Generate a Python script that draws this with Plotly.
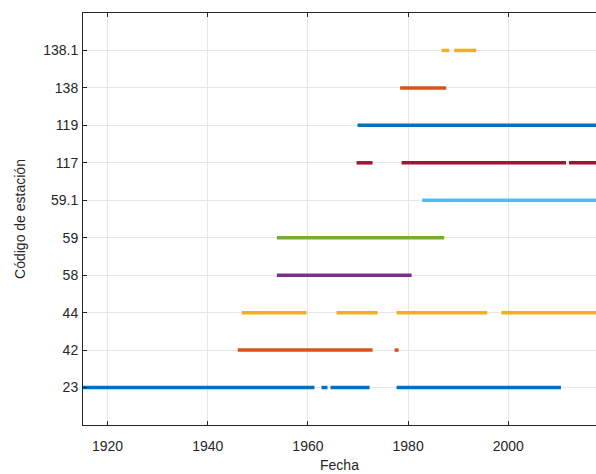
import plotly.graph_objects as go

stations = ["23", "42", "44", "58", "59", "59.1", "117", "119", "138", "138.1"]
colors = ["#0072BD", "#D95319", "#EDB120", "#7E2F8E", "#77AC30",
          "#4DBEEE", "#A2142F", "#0072BD", "#D95319", "#EDB120"]

# record periods (start year, end year) per station
seg_start = {
    "23":    [1914.0, 1962.7, 1964.5, 1977.7],
    "42":    [1946.0, 1977.3],
    "44":    [1946.8, 1965.7, 1977.7, 1998.6],
    "58":    [1953.8],
    "59":    [1953.8],
    "59.1":  [1982.8],
    "117":   [1969.7, 1978.7, 2012.1],
    "119":   [1969.9],
    "138":   [1978.4],
    "138.1": [1986.7, 1989.2],
}
seg_end = {
    "23":    [1961.3, 1963.9, 1972.3, 2010.5],
    "42":    [1972.9, 1978.1],
    "44":    [1959.7, 1973.9, 1995.8, 2020.0],
    "58":    [1980.7],
    "59":    [1987.2],
    "59.1":  [2020.0],
    "117":   [1972.9, 2011.5, 2020.0],
    "119":   [2020.0],
    "138":   [1987.6],
    "138.1": [1988.2, 1993.6],
}

xticks = [1920, 1940, 1960, 1980, 2000]

fig = go.Figure()
for st, col in zip(stations, colors):
    xs, ys = [], []
    for a, b in zip(seg_start[st], seg_end[st]):
        xs += [a, b, None]
        ys += [st, st, None]
    fig.add_trace(go.Scatter(x=xs, y=ys, mode="lines",
                             line=dict(color=col, width=3.5),
                             showlegend=False, connectgaps=False))

axis_col = "#262626"
fig.update_layout(
    width=596, height=474,
    margin=dict(l=83, r=0, t=13, b=49, autoexpand=False),
    paper_bgcolor="white", plot_bgcolor="white",
    font=dict(family="Liberation Sans, Arial, sans-serif", size=14, color=axis_col),
    xaxis=dict(range=[1915.1, 2017.5], tickvals=xticks,
               ticktext=[str(t) for t in xticks], automargin=False,
               showgrid=True, gridcolor="#e6e6e6", gridwidth=1,
               showline=True, linecolor=axis_col, linewidth=1,
               mirror="ticks", ticks="inside", ticklen=4, tickcolor=axis_col,
               ticklabelstandoff=8,
               zeroline=False,
               title=dict(text="Fecha", standoff=7, font=dict(size=14))),
    yaxis=dict(type="category", categoryorder="array", categoryarray=stations,
               range=[-1, 10], automargin=False,
               showgrid=True, gridcolor="#e6e6e6", gridwidth=1,
               showline=True, linecolor=axis_col, linewidth=1,
               ticks="inside", ticklen=4, tickcolor=axis_col,
               ticklabelstandoff=1,
               zeroline=False,
               title=dict(text="Código de estación", standoff=14, font=dict(size=14))),
)

fig.write_html(
    "out.html",
    config={"displayModeBar": False},
    post_script="document.body.style.margin='0';document.body.style.overflow='hidden';",
)
